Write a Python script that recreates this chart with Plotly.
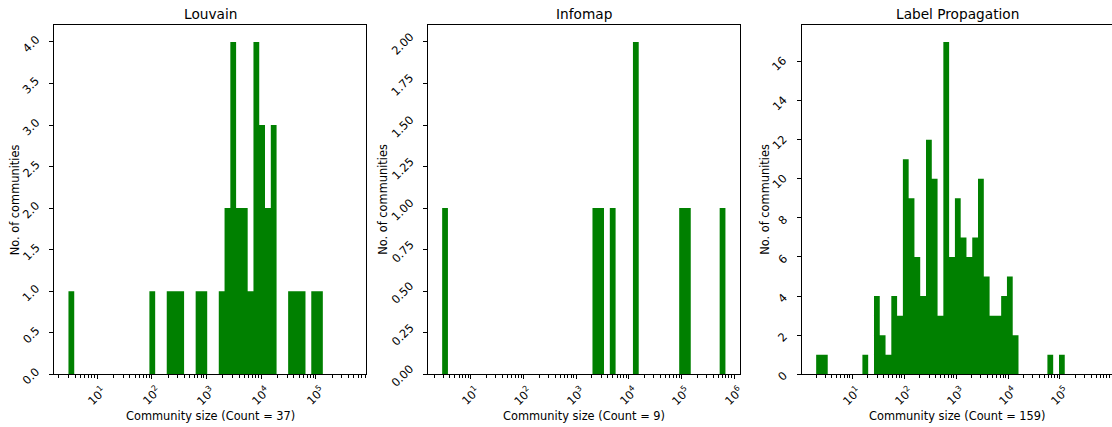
import math
import plotly.graph_objects as go

W, H = 1112, 427

panel_titles = ["Louvain", "Infomap", "Label Propagation"]
community_totals = [37, 9, 159]

# Histograms on log-spaced bins: log10 of first bin edge, log10 bin width, counts per bin
louvain_log_first_edge = 0.476
louvain_log_bin_width = 0.1058
louvain_counts = [1, 0, 0, 0, 0, 0, 0, 0, 0, 0, 0, 0, 0, 0, 1, 0, 0, 1, 1, 1,
                  0, 0, 1, 1, 0, 0, 1, 2, 4, 2, 2, 1, 4, 3, 2, 3, 0, 0, 1, 1,
                  1, 0, 1, 1, 0, 0, 0, 0, 0]

infomap_log_first_edge = 0.456
infomap_log_bin_width = 0.1098
infomap_counts = [1, 0, 0, 0, 0, 0, 0, 0, 0, 0, 0, 0, 0, 0, 0, 0, 0, 0, 0, 0,
                  0, 0, 0, 0, 0, 0, 1, 1, 0, 1, 0, 0, 0, 2, 0, 0, 0, 0, 0, 0,
                  0, 1, 1, 0, 0, 0, 0, 0, 1]

labelprop_log_first_edge = 0.3024
labelprop_log_bin_width = 0.1114
labelprop_counts = [1, 1, 0, 0, 0, 0, 0, 0, 1, 0, 4, 2, 1, 4, 3, 11, 9, 6, 4, 12,
                    10, 3, 17, 6, 9, 7, 6, 7, 10, 5, 3, 3, 4, 5, 2, 0, 0, 0, 0, 0,
                    1, 0, 1, 0, 0, 0, 0, 0, 0]

y_tick_values = [
    [0.0, 0.5, 1.0, 1.5, 2.0, 2.5, 3.0, 3.5, 4.0],
    [0.0, 0.25, 0.5, 0.75, 1.0, 1.25, 1.5, 1.75, 2.0],
    [0, 2, 4, 6, 8, 10, 12, 14, 16],
]
y_tick_formats = ["{:.1f}", "{:.2f}", "{:d}"]

panels = [
    (louvain_log_first_edge, louvain_log_bin_width, louvain_counts),
    (infomap_log_first_edge, infomap_log_bin_width, infomap_counts),
    (labelprop_log_first_edge, labelprop_log_bin_width, labelprop_counts),
]

# layout geometry (pixels)
ax_left_px = [54.3, 428.0, 802.0]
ax_full_w_px = 311.6
ax_top_px, ax_bot_px = 25.3, 374.3
FONT = "DejaVu Sans"
TICK_FS = 11.4
LABEL_FS = 11.4
TITLE_FS = 13.7
GREEN = "#008000"

fig = go.Figure()
annotations = []

for i, (lo, w, counts) in enumerate(panels):
    n = len(counts)
    edges = [10 ** (lo + w * k) for k in range(n + 1)]
    xs, ys = [], []
    for k in range(n):
        xs.append(edges[k]); ys.append(counts[k])
    xs.append(edges[n]); ys.append(counts[-1])
    xs.append(edges[n]); ys.append(0)
    xa = "x" if i == 0 else f"x{i+1}"
    ya = "y" if i == 0 else f"y{i+1}"
    fig.add_trace(go.Scatter(x=xs, y=ys, mode="lines", line=dict(width=0, color=GREEN, shape="hv"),
                             fill="tozeroy", fillcolor=GREEN, xaxis=xa, yaxis=ya,
                             showlegend=False, hoverinfo="skip"))

    span = n * w
    r0 = lo - 0.05 * span
    r1 = lo + 1.05 * span
    left = ax_left_px[i]
    right_full = left + ax_full_w_px
    right = min(right_full, W)
    r1_vis = r0 + (r1 - r0) * (right - left) / ax_full_w_px
    dom = [left / W, right / W]

    major = [10 ** k for k in range(0, 8) if r0 <= k <= r1_vis - 0.03]
    minor = []
    for k in range(-1, 8):
        for m in range(2, 10):
            v = m * 10 ** k
            if r0 <= math.log10(v) <= r1_vis - 0.01:
                minor.append(v)

    ymax = max(counts) * 1.05
    key = "" if i == 0 else str(i + 1)
    fig.layout["xaxis" + key] = dict(
        type="log", range=[r0, r1_vis], domain=dom, anchor=ya,
        showline=True, linecolor="black", linewidth=0.9, mirror=True,
        ticks="outside", ticklen=4, tickwidth=0.9, tickcolor="black",
        tickmode="array", tickvals=major, showticklabels=False,
        minor=dict(ticks="outside", ticklen=2.3, tickwidth=0.7, tickcolor="black",
                   tickmode="array", tickvals=minor),
        showgrid=False, zeroline=False, automargin=False, fixedrange=True,
    )
    fig.layout["yaxis" + key] = dict(
        range=[0, ymax], domain=[(H - ax_bot_px) / H, (H - ax_top_px) / H], anchor=xa,
        showline=True, linecolor="black", linewidth=0.9, mirror=(i < 2),
        ticks="outside", ticklen=4, tickwidth=0.9, tickcolor="black",
        tickmode="array", tickvals=y_tick_values[i], showticklabels=False,
        showgrid=False, zeroline=False, automargin=False, fixedrange=True,
    )

    # x tick labels
    for v in major:
        k = int(round(math.log10(v)))
        annotations.append(dict(
            x=k, xref=xa, y=(H - 382.0) / H, yref="paper",
            text=f"10<sup>{k}</sup>", showarrow=False, textangle=-45,
            xanchor="center", yanchor="top", font=dict(family=FONT, size=TICK_FS, color="black"),
            borderpad=0,
        ))
    # y tick labels
    for v in y_tick_values[i]:
        annotations.append(dict(
            x=(left - 10.5) / W, xref="paper", y=v, yref=ya, yshift=-2,
            text=y_tick_formats[i].format(v), showarrow=False, textangle=-45,
            xanchor="right", yanchor="middle", font=dict(family=FONT, size=TICK_FS, color="black"),
            borderpad=0,
        ))
    center_x = (left + right_full) / 2
    # subplot title
    annotations.append(dict(
        x=center_x / W, xref="paper", y=(H - 14) / H, yref="paper",
        text=panel_titles[i], showarrow=False, xanchor="center", yanchor="middle",
        font=dict(family=FONT, size=TITLE_FS, color="black"),
    ))
    # x axis title
    annotations.append(dict(
        x=center_x / W, xref="paper", y=(H - 415.5) / H, yref="paper",
        text=f"Community size (Count = {community_totals[i]})", showarrow=False,
        xanchor="center", yanchor="middle", font=dict(family=FONT, size=LABEL_FS, color="black"),
    ))
    # y axis title
    ylab_px = [14.5, 383.0, 765.0][i]
    annotations.append(dict(
        x=ylab_px / W, xref="paper", y=(H - (ax_top_px + ax_bot_px) / 2) / H, yref="paper",
        text="No. of communities", showarrow=False, textangle=-90,
        xanchor="center", yanchor="middle", font=dict(family=FONT, size=LABEL_FS, color="black"),
    ))

fig.update_layout(
    width=W, height=H,
    margin=dict(l=0, r=0, t=0, b=0, pad=0),
    paper_bgcolor="white", plot_bgcolor="white",
    annotations=annotations,
    showlegend=False,
    font=dict(family=FONT, color="black"),
)

fig.write_html("out.html", config={"displayModeBar": False},
               post_script="document.body.style.margin='0px';document.body.style.overflow='hidden';")
